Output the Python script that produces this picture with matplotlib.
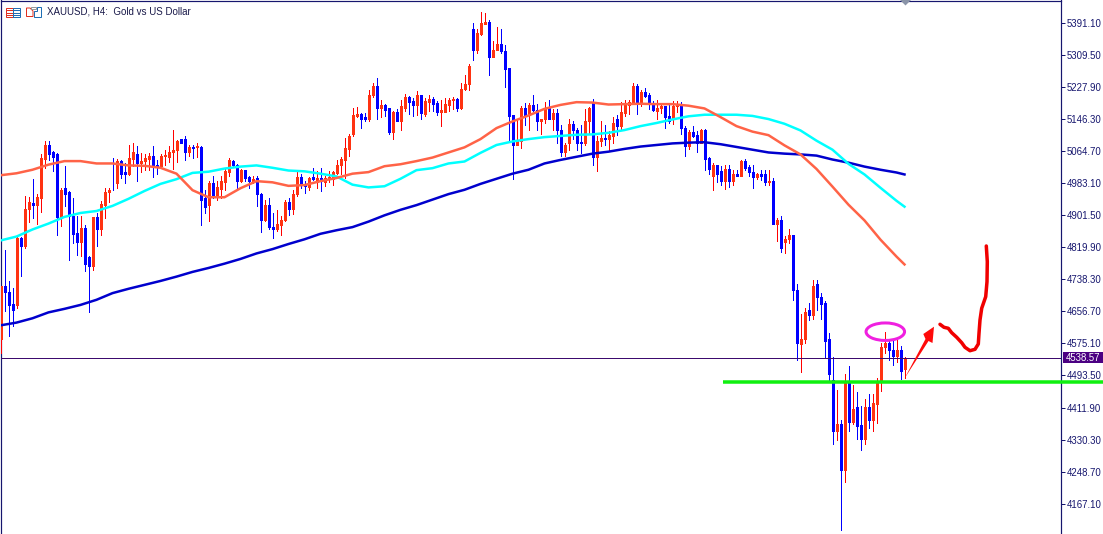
# -*- coding: utf-8 -*-
import numpy as np
import matplotlib
matplotlib.use('Agg')
import matplotlib.pyplot as plt
from matplotlib.patches import Ellipse, Polygon, Rectangle

opens = [
    4585,4722,4707,4676,4672,4843,4824,4916,4933,4928,
    4944,5045,5081,5061,5056,4897,4971,4960,4899,4857,
    4834,4870,4796,4773,4898,4865,4928,4960,4984,4982,
    5038,5010,5005,5044,5058,5033,5038,5045,5053,5030,
    5026,5051,5050,5061,5067,5094,5094,5063,5076,5074,
    5076,4944,4928,4982,4948,4969,4987,5012,5040,5030,
    4989,5016,4999,4989,4997,4956,4888,4928,4871,4865,
    4876,4888,4936,4916,4954,4999,4979,4972,4999,4985,
    4997,4985,4994,4994,5009,5028,5043,5071,5109,5155,
    5160,5150,5145,5206,5229,5175,5183,5173,5114,5165,
    5142,5175,5203,5193,5183,5208,5160,5190,5198,5188,
    5165,5165,5183,5195,5198,5175,5223,5234,5374,5323,
    5363,5389,5394,5305,5323,5338,5320,5277,5157,5079,
    5089,5175,5157,5183,5168,5140,5145,5173,5147,5162,
    5119,5061,5086,5134,5119,5086,5084,5140,5187,5050,
    5089,5099,5094,5104,5147,5129,5162,5183,5187,5229,
    5190,5216,5206,5187,5167,5173,5178,5155,5145,5178,
    5180,5124,5078,5114,5106,5086,5119,5048,5002,5028,
    5015,4989,5020,4989,5007,5002,5038,5025,5012,4999,
    5007,5007,4987,4989,4880,4888,4834,4842,4852,4712,
    4573,4585,4659,4648,4725,4694,4679,4585,4483,4353,
    4371,4252,4476,4376,4414,4368,4333,4414,4379,4422,
    4478,4567,4575,4559,4544,4557,4511]
highs = [
    4722,4814,4733,4715,4845,4845,4950,4948,4994,4954,
    5058,5091,5089,5064,5060,4971,5026,4962,4944,4899,
    4900,4877,4797,4898,4907,4938,4971,4971,5048,5044,
    5041,5034,5081,5086,5077,5060,5058,5060,5078,5043,
    5056,5067,5077,5119,5092,5096,5102,5080,5080,5085,
    5078,4965,4988,5000,4988,5000,5022,5047,5043,5031,
    5019,5017,5000,5000,5002,4957,4941,4946,4907,4914,
    4899,4941,4944,4966,5013,5005,4988,4999,5022,5013,
    5022,5000,5013,5013,5043,5050,5098,5109,5173,5177,
    5162,5162,5219,5238,5251,5195,5185,5173,5166,5172,
    5195,5211,5204,5200,5218,5208,5200,5206,5202,5191,
    5195,5200,5200,5202,5200,5238,5259,5285,5391,5374,
    5419,5416,5397,5344,5380,5376,5335,5277,5157,5145,
    5179,5187,5187,5208,5185,5146,5189,5195,5172,5172,
    5132,5085,5145,5140,5123,5132,5172,5177,5197,5102,
    5142,5132,5115,5151,5157,5189,5195,5194,5238,5236,
    5221,5225,5212,5191,5195,5187,5180,5183,5191,5191,
    5189,5129,5119,5129,5115,5121,5121,5050,5033,5028,
    5026,5030,5030,5017,5017,5043,5045,5030,5028,5009,
    5017,5017,5017,4996,4894,4900,4848,4866,4852,4727,
    4651,4665,4678,4737,4737,4704,4682,4602,4541,4457,
    4381,4496,4517,4470,4451,4415,4434,4445,4445,4487,
    4575,4605,4585,4582,4583,4569,4541]
lows = [
    4551,4657,4595,4620,4665,4746,4818,4883,4894,4880,
    4909,5022,5043,5013,4852,4873,4924,4788,4831,4801,
    4798,4759,4654,4761,4824,4852,4894,4935,4965,4971,
    4996,4982,5003,5026,4988,5011,5017,5017,4998,5005,
    5026,5028,5036,5020,5036,5084,5041,5051,5047,5050,
    4877,4907,4886,4945,4941,4945,4966,5000,5026,4966,
    4985,4988,4971,4982,4924,4858,4886,4866,4843,4860,
    4852,4886,4903,4905,4951,4971,4958,4965,4992,4971,
    4962,4975,4985,4979,5007,5005,4996,5053,5104,5151,
    5122,5142,5140,5202,5145,5151,5155,5109,5094,5140,
    5117,5166,5160,5155,5157,5145,5153,5166,5166,5157,
    5129,5163,5166,5172,5166,5172,5221,5221,5297,5313,
    5361,5389,5259,5304,5323,5314,5228,5089,4994,5079,
    5072,5132,5119,5166,5119,5109,5136,5146,5119,5085,
    5053,5051,5067,5094,5067,5060,5081,5111,5028,5013,
    5078,5081,5064,5085,5106,5119,5155,5160,5185,5160,
    5179,5202,5172,5166,5146,5162,5124,5136,5134,5163,
    5109,5053,5071,5100,5061,5085,5017,5005,4966,4985,
    4979,4969,4973,4979,5000,5000,5017,5000,4971,4994,
    4992,4979,4977,4880,4835,4807,4804,4831,4686,4532,
    4503,4576,4634,4636,4661,4636,4541,4483,4320,4330,
    4101,4223,4351,4371,4333,4305,4320,4361,4351,4373,
    4455,4551,4534,4521,4527,4485,4487]
closes = [
    4722,4705,4674,4659,4843,4824,4917,4936,4928,4948,
    5048,5081,5058,5050,4897,4966,4956,4899,4854,4834,
    4870,4778,4773,4897,4865,4931,4961,4966,4982,5038,
    5007,5005,5048,5061,5033,5040,5048,5053,5028,5026,
    5053,5053,5063,5068,5091,5084,5063,5076,5072,5076,
    4941,4921,4982,4950,4972,4989,5015,5043,5028,4989,
    5016,4996,4989,4994,4956,4888,4928,4871,4865,4880,
    4890,4936,4916,4956,4999,4977,4975,4997,4994,4996,
    4988,4997,4998,5011,5028,5045,5073,5104,5157,5160,
    5147,5145,5208,5229,5175,5183,5170,5114,5165,5142,
    5178,5203,5190,5183,5208,5162,5193,5198,5185,5165,
    5170,5185,5195,5198,5174,5223,5236,5282,5323,5366,
    5391,5394,5305,5323,5338,5318,5274,5155,5079,5089,
    5175,5153,5183,5168,5140,5145,5173,5147,5162,5117,
    5061,5081,5134,5117,5084,5084,5142,5173,5050,5091,
    5099,5094,5106,5137,5129,5165,5185,5189,5229,5190,
    5216,5204,5187,5168,5175,5178,5152,5142,5180,5183,
    5122,5078,5114,5104,5085,5119,5045,5020,5028,5005,
    4989,5020,4989,5007,5002,5038,5022,5010,4999,5007,
    5002,4987,4989,4880,4888,4819,4842,4852,4710,4575,
    4586,4655,4648,4722,4692,4676,4582,4498,4353,4371,
    4252,4478,4376,4409,4366,4333,4414,4379,4424,4478,
    4567,4575,4557,4544,4557,4506,4539]

# moving averages, read every 4th bar
ma_bars = list(range(0, 227, 4)) + [226]
ma_red = [5003,5008,5017,5030,5039,5039,5033,5033,5028,5027,5022,5007,4965,4947,4947,4970,
          4988,4985,4976,4978,4988,4996,5007,5011,5026,5031,5039,5048,5061,5074,5095,5123,
          5140,5155,5172,5182,5189,5188,5183,5184,5185,5184,5184,5180,5173,5151,5128,5114,
          5105,5079,5056,5019,4974,4928,4888,4839,4796,4776]
ma_cyan = [4837,4847,4865,4880,4897,4907,4912,4925,4943,4963,4981,4993,5009,5012,5020,5025,
           5028,5022,5015,5013,5007,5000,4979,4972,4975,4994,5016,5021,5033,5038,5060,5080,
           5089,5095,5100,5103,5106,5107,5111,5118,5128,5136,5145,5153,5157,5157,5157,5154,
           5146,5134,5117,5091,5068,5032,5005,4971,4938,4923]
ma_blue = [4621,4628,4639,4654,4663,4673,4686,4703,4714,4724,4734,4745,4757,4767,4778,4790,
           4804,4815,4828,4840,4854,4863,4871,4885,4901,4915,4927,4941,4955,4966,4981,4994,
           5007,5017,5033,5042,5050,5058,5063,5070,5076,5080,5084,5086,5087,5082,5075,5068,
           5061,5058,5056,5053,5043,5035,5025,5017,5010,5005]

price_ticks = [5391.10,5309.50,5227.90,5146.30,5064.70,4983.10,4901.50,4819.90,
               4738.30,4656.70,4575.10,4493.50,4411.90,4330.30,4248.70,4167.10]
last_price = 4538.57
support_price = 4477

NAVY = '#16166e'
W, H = 1103, 534
plt.rcParams['font.family'] = ['Liberation Sans', 'DejaVu Sans']

fig = plt.figure(figsize=(W/100, H/100), dpi=100, facecolor='white')
ax = fig.add_axes([0.5/W, 0, 1060/W, 533.5/H])
px = 72/100  # one pixel in points

o = np.array(opens); h = np.array(highs); l = np.array(lows); c = np.array(closes)
x = np.arange(len(o))
up = c >= o

for mask, wick, body in ((up, '#ff0000', '#ff3311'), (~up, '#0000ff', '#0000ff')):
    ax.vlines(x[mask], l[mask], h[mask], color=wick, lw=px, zorder=3, antialiased=False)
    bot = np.minimum(o, c)[mask]
    top = bot + np.maximum(np.abs(c-o)[mask], 2.5)
    ax.vlines(x[mask], bot, top, color=body, lw=3*px, zorder=3, antialiased=False, capstyle='butt')

ax.plot(ma_bars, ma_blue, color='#0000cd', lw=2.5*px, zorder=4)
ax.plot(ma_bars, ma_cyan, color='#00ffff', lw=2.5*px, zorder=4)
ax.plot(ma_bars, ma_red, color='#ff6347', lw=2.5*px, zorder=4)

ax.axhline(last_price, color='#3c0a6e', lw=px, zorder=5)
ax.plot([180.6, 275.6], [support_price, support_price], color='#10f010', lw=3.5*px,
        zorder=6, clip_on=False, solid_capstyle='butt')

ax.set_xlim(0, 265)
ax.set_ylim(5449.0-2.545*534, 5449.0-2.545*0.5)
ax.set_xticks([])
ax.yaxis.tick_right()
ax.set_yticks(price_ticks)
ax.set_yticklabels(['%.2f' % p for p in price_ticks], fontsize=6.9, color=NAVY)
ax.tick_params(axis='y', length=3, width=px, color=NAVY, pad=1.5)
ax.spines['bottom'].set_visible(False)
for s in ('left', 'right', 'top'):
    ax.spines[s].set_color(NAVY)
    ax.spines[s].set_linewidth(px*1.2)

# overlay in pixels for the hand drawn marks and the header
ov = fig.add_axes([0, 0, 1, 1], facecolor='none')
ov.set_xlim(0, W); ov.set_ylim(H, 0); ov.axis('off')

ov.add_patch(Ellipse((885.3, 331.7), 38.5, 17.5, fill=False, edgecolor='#f020e0', lw=3*px))
ov.add_patch(Polygon([(904.5,378.5),(925.5,339),(923.3,334),(934,326.7),(932.5,343),(928.5,341)],
                     closed=True, color='#ff0a0a', lw=0))
sx = [940,944,948.3,951.7,956.7,961.7,965,970,975,978.3,979,980,981.7,985.7,987,987.3,986.3]
sy = [324.3,327.3,328.3,332.7,337.3,342.7,347.3,350.7,349.3,344,333.3,320,308.3,296.7,281.7,261.7,246]
ov.plot(sx, sy, color='#f00000', lw=3.5*px, solid_capstyle='round', solid_joinstyle='round')

ov.add_patch(Rectangle((1063, 352), 39.5, 11, color='#4b0082', lw=0))
ov.text(1083, 358, '%.2f' % last_price, color='white', fontsize=6.9, ha='center', va='center')
ov.text(47, 12, 'XAUUSD, H4:  Gold vs US Dollar', color='#1a1a4a', fontsize=7, ha='left', va='center')
ov.add_patch(Polygon([(900,0),(911,0),(905.5,5.5)], closed=True, color='#8a94a8', lw=0))

# header icons
ov.add_patch(Rectangle((5.5,7.5), 7, 9, fill=False, edgecolor='#e03020', lw=px))
ov.add_patch(Rectangle((12.5,7.5), 7, 9, fill=False, edgecolor='#1f6fb5', lw=px))
for yy in (10, 12.5, 15):
    ov.plot([7,12], [yy,yy], color='#e03020', lw=px)
    ov.plot([14,19], [yy,yy], color='#1f6fb5', lw=px)
ov.add_patch(Polygon([(26.5,8),(30,8),(33,11),(33,16.5),(26.5,16.5)], closed=True, fill=False, edgecolor='#e03020', lw=px))
ov.add_patch(Polygon([(34,11),(37,11),(37,7),(40.5,7),(40.5,16.5),(34,16.5)], closed=True, fill=False, edgecolor='#1f6fb5', lw=px))
ov.add_patch(Rectangle((31,6.5), 5, 2.5, fill=False, edgecolor='#999999', lw=px))

plt.savefig('out.png', dpi=100)
plt.close()
